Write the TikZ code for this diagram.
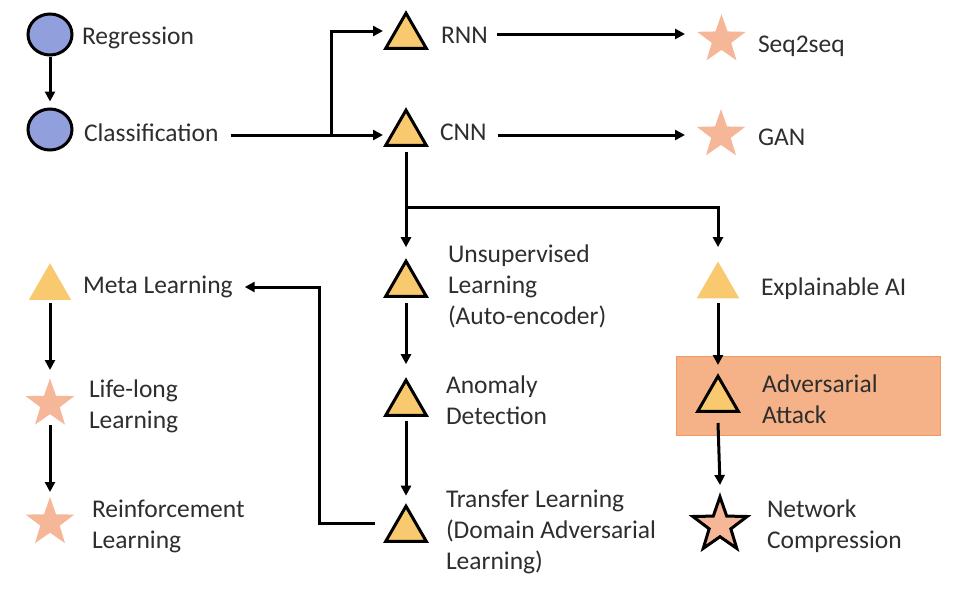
\documentclass[tikz,border=0pt]{standalone}
\usepackage{fontspec}
\setmainfont{Carlito}
\usetikzlibrary{shapes.geometric,arrows.meta,calc}
\definecolor{trifill}{HTML}{F8C96E}
\definecolor{starfill}{HTML}{F6B698}
\definecolor{circfill}{HTML}{919FDC}
\definecolor{boxfill}{HTML}{F5B288}
\definecolor{boxline}{HTML}{F09A62}
\definecolor{txtcol}{HTML}{2E2E2E}
\newcommand\mlines[1]{\begin{tabular}[t]{@{}l@{}}#1\end{tabular}}
\begin{document}
\begin{tikzpicture}[x=1pt,y=-1pt,
  lbl/.style={anchor=base west, inner sep=0pt, outer sep=0pt, text=txtcol,
              font=\fontsize{25.5}{31}\selectfont},
  tribox/.style={regular polygon, regular polygon sides=3, minimum size=47pt,
              inner sep=0pt, fill=trifill, draw=black, line width=3pt},
  triplain/.style={regular polygon, regular polygon sides=3, minimum size=49pt,
              inner sep=0pt, fill=trifill},
  starplain/.style={star, star points=5, star point ratio=2.5, minimum size=51pt,
              inner sep=0pt, fill=starfill},
  starbox/.style={star, star points=5, star point ratio=2.5, minimum size=57pt,
              inner sep=0pt, fill=starfill, draw=black, line width=3pt},
  circbox/.style={ellipse, minimum width=44pt, minimum height=41pt, inner sep=0pt,
              fill=circfill, draw=black, line width=3pt},
  advbox/.style={rectangle, minimum width=264pt, minimum height=79pt, inner sep=0pt,
              fill=boxfill, draw=boxline, line width=1pt},
  conn/.style={line width=3pt, draw=black},
  arr/.style={conn, -{Triangle[length=10pt,width=10pt]}}
]
\useasboundingbox (0,0) rectangle (964,590);
\fill[white] (0,0) rectangle (964,590);

% highlighted box
\node[advbox] (abox) at (808,395.5) {};

% symbols
\node[circbox] (reg) at (50,34.5) {};
\node[circbox] (cls) at (50,129.5) {};
\node[tribox] (rnn) at (406,36.7) {};
\node[tribox] (cnn) at (406,133.7) {};
\node[starplain] (seq) at (721.5,39.7) {};
\node[starplain] (gan) at (721,134.7) {};
\node[tribox] (unsup) at (406,284.7) {};
\node[tribox] (anom) at (406,403.7) {};
\node[tribox] (trans) at (406,529.7) {};
\node[triplain] (meta) at (50,287.7) {};
\node[starplain] (life) at (50,404) {};
\node[starplain] (reinf) at (50,522.5) {};
\node[triplain] (expl) at (718,286) {};
\node[tribox] (adv) at (718,399.7) {};
\node[starbox] (net) at (720,525.3) {};

% labels
\node[lbl] (regt) at (82,44.5) {Regression};
\node[lbl] (clst) at (84,141.5) {Classification};
\node[lbl] (rnnt) at (441,43) {RNN};
\node[lbl] (cnnt) at (440,140) {CNN};
\node[lbl] (seqt) at (758,52) {Seq2seq};
\node[lbl] (gant) at (758,145) {GAN};
\node[lbl] (metat) at (83,293) {Meta Learning};
\node[lbl] (lifet) at (89,397) {\mlines{Life-long\\Learning}};
\node[lbl] (reinft) at (92,517) {\mlines{Reinforcement\\Learning}};
\node[lbl] (unsupt) at (448,262) {\mlines{Unsupervised\\Learning\\(Auto-encoder)}};
\node[lbl] (anomt) at (446,393) {\mlines{Anomaly\\Detection}};
\node[lbl] (transt) at (446,507) {\mlines{Transfer Learning\\(Domain Adversarial\\Learning)}};
\node[lbl] (explt) at (761,295) {Explainable AI};
\node[lbl] (advt) at (762,392) {\mlines{Adversarial\\Attack}};
\node[lbl] (nett) at (767,517) {\mlines{Network\\Compression}};

% connectors
\draw[arr] (reg.south) -- ($(cls.north)+(0,-6)$);

\coordinate (clsout) at ($(clst.base east)+(12,-6.5)$);
\coordinate (br) at (331,135);
\draw[arr] (clsout) -- ($(cnn.center)+(-23,1.3)$);
\draw[arr] (br) |- ($(rnn.center)+(-23,-5.7)$);

\draw[arr] ($(rnn.center)+(91,-2.7)$) -- ($(seq.center)+(-36.5,-5.7)$);
\draw[arr] ($(cnn.center)+(92,1.3)$) -- ($(gan.center)+(-36,0.3)$);

\coordinate (jn) at (406,207);
\draw[arr] ($(cnn.south)+(0,5)$) -- ($(unsup.north)+(0,-11)$);
\draw[arr] (jn) -| ($(expl.north)+(0,-14)$);

\draw[arr] ($(unsup.south)+(0,5)$) -- ($(anom.north)+(0,-13)$);
\draw[arr] ($(anom.south)+(0,4)$) -- ($(trans.north)+(0,-7.5)$);

\coordinate (tstart) at ($(trans.center)+(-31,-6.7)$);
\coordinate (lk) at (319,0);
\coordinate (mtip) at ($(metat.base east)+(12,-6)$);
\draw[arr] (tstart) -- (tstart -| lk) |- (mtip);

\draw[arr] ($(meta.south)+(0,3)$) -- ($(life.center)+(0,-34)$);
\draw[arr] ($(life.center)+(0,21)$) -- ($(reinf.center)+(0,-30.5)$);

\draw[arr] ($(expl.south)+(0,5)$) -- ($(adv.center)+(0,-34.7)$);
\draw[arr] ($(adv.center)+(0,23.3)$) -- ($(net.center)+(0,-40.3)$);
\end{tikzpicture}
\end{document}
